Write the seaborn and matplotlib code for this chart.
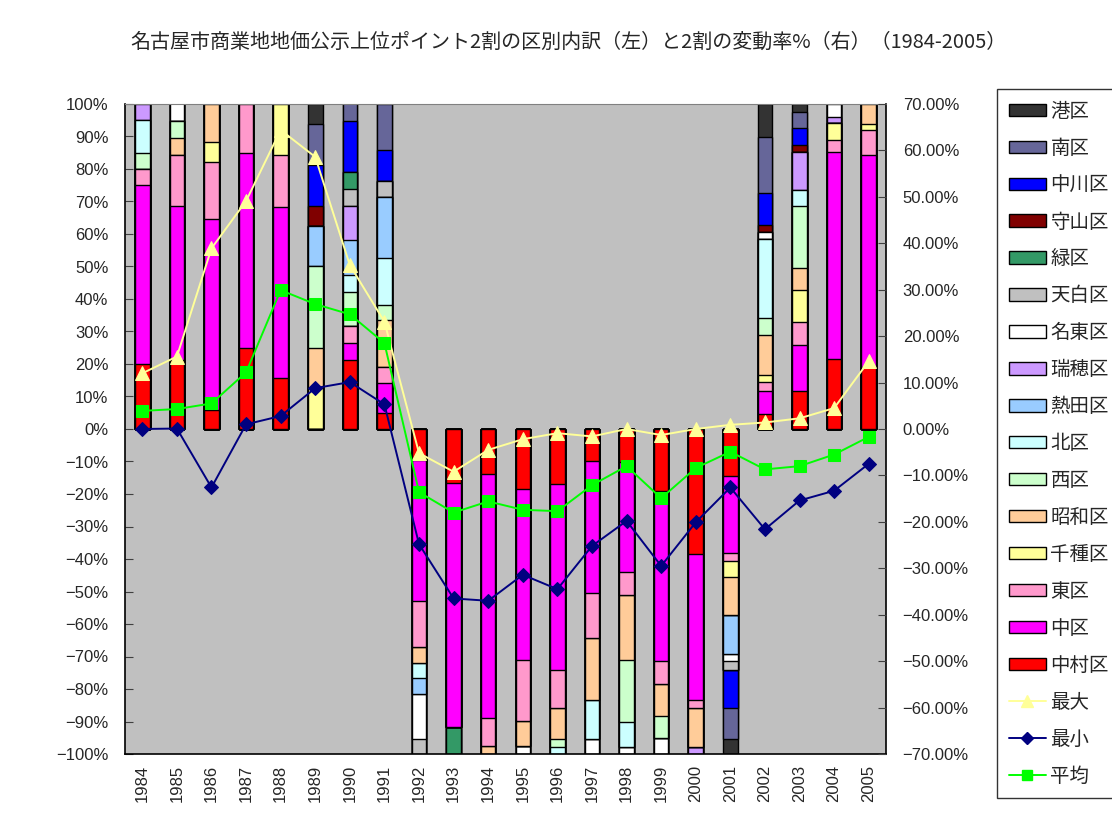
import numpy as np
import pandas as pd
import matplotlib
matplotlib.use("Agg")
import matplotlib.pyplot as plt
import seaborn as sns
from matplotlib.patches import Patch
from matplotlib.lines import Line2D
from matplotlib.ticker import FuncFormatter, FixedLocator

years = [str(y) for y in range(1984, 2006)]

# district shares (% of top-20% points); negative = years with falling prices
nakamura = [20.0, 21.1, 5.9, 25.0, 15.8, 0, 21.1, 4.8, -9.5, -16.5, -14.0, -18.6, -16.9, -9.7, -10.2, -19.1, -38.4, -14.6, 4.6, 11.8, 21.5, 19.2]
naka     = [55.0, 47.4, 58.8, 60.0, 52.6, 0, 5.3, 9.5, -43.3, -75.3, -75.0, -52.4, -57.4, -40.8, -33.9, -52.3, -45.1, -23.6, 7.2, 14.0, 63.8, 65.2]
higashi  = [5.0, 15.8, 17.6, 15.0, 15.8, 0, 5.3, 4.8, -14.3, 0, -8.4, -18.9, -11.6, -13.9, -7.1, -7.2, -2.3, -2.3, 2.8, 7.0, 3.6, 7.7]
chikusa  = [0, 0, 5.9, 0, 15.8, 12.5, 0, 0, 0, 0, 0, 0, 0, 0, 0, 0, 0, -4.9, 2.1, 10.0, 5.4, 1.7]
showa    = [0, 5.3, 11.8, 0, 0, 12.5, 0, 14.3, -4.8, 0, -2.6, -7.5, -9.4, -19.1, -19.8, -9.6, -11.9, -11.7, 12.2, 6.6, 0, 6.2]
nishi    = [5.0, 5.3, 0, 0, 0, 25.0, 10.5, 4.8, 0, 0, 0, 0, -2.4, 0, -19.3, -6.9, 0, 0, 5.1, 19.3, 0, 0]
kita     = [10.0, 0, 0, 0, 0, 0, 5.3, 14.3, -4.8, 0, 0, 0, -2.3, -11.8, -7.4, 0, 0, 0, 24.4, 4.8, 0, 0]
atsuta   = [0, 0, 0, 0, 0, 12.5, 10.5, 19.0, -4.8, 0, 0, 0, 0, 0, 0, 0, 0, -12.1, 0, 0, 0, 0]
mizuho   = [5.0, 0, 0, 0, 0, 0, 10.5, 0, 0, 0, 0, 0, 0, 0, 0, 0, -2.3, 0, 0, 11.8, 1.8, 0]
meito    = [0, 5.3, 0, 0, 0, 0, 0, 0, -13.8, 0, 0, -2.6, 0, -4.7, -2.3, -4.9, 0, -2.3, 2.2, 0, 3.9, 0]
tempaku  = [0, 0, 0, 0, 0, 0, 5.3, 4.8, -4.8, 0, 0, 0, 0, 0, 0, 0, 0, -2.7, 0, 0, 0, 0]
midori   = [0, 0, 0, 0, 0, 0, 5.3, 0, 0, -8.2, 0, 0, 0, 0, 0, 0, 0, 0, 0, 0, 0, 0]
moriyama = [0, 0, 0, 0, 0, 6.25, 0, 0, 0, 0, 0, 0, 0, 0, 0, 0, 0, 0, 2.2, 2.2, 0, 0]
nakagawa = [0, 0, 0, 0, 0, 12.5, 15.8, 9.5, 0, 0, 0, 0, 0, 0, 0, 0, 0, -11.8, 9.9, 5.1, 0, 0]
minami   = [0, 0, 0, 0, 0, 12.5, 5.3, 14.3, 0, 0, 0, 0, 0, 0, 0, 0, 0, -9.4, 17.1, 5.0, 0, 0]
minato   = [0, 0, 0, 0, 0, 6.25, 0, 0, 0, 0, 0, 0, 0, 0, 0, 0, 0, -4.7, 10.1, 2.4, 0, 0]

# change rates (right axis, %)
max_rate = [12.0, 15.6, 38.9, 49.1, 64.4, 58.6, 35.3, 23.1, -5.2, -9.2, -4.5, -2.2, -0.9, -1.6, 0.0, -1.3, 0.0, 0.9, 1.4, 2.3, 4.5, 14.6]
min_rate = [0.0, 0.1, -12.6, 1.0, 2.8, 8.8, 10.1, 5.3, -24.8, -36.5, -37.0, -31.4, -34.5, -25.2, -19.8, -29.5, -20.1, -12.6, -21.6, -15.4, -13.3, -7.5]
avg_rate = [3.9, 4.3, 5.5, 12.2, 29.9, 26.9, 24.7, 18.5, -13.6, -18.0, -15.6, -17.4, -17.7, -12.1, -8.0, -14.9, -8.4, -4.9, -8.7, -8.0, -5.5, -1.7]

# stacking order (bottom -> top)
stack = [
    ("中村区", nakamura, "#FF0000"),
    ("中区", naka, "#FF00FF"),
    ("東区", higashi, "#FF99CC"),
    ("千種区", chikusa, "#FFFF99"),
    ("昭和区", showa, "#FFCC99"),
    ("西区", nishi, "#CCFFCC"),
    ("北区", kita, "#CCFFFF"),
    ("熱田区", atsuta, "#99CCFF"),
    ("瑞穂区", mizuho, "#CC99FF"),
    ("名東区", meito, "#FFFFFF"),
    ("天白区", tempaku, "#C0C0C0"),
    ("緑区", midori, "#339966"),
    ("守山区", moriyama, "#800000"),
    ("中川区", nakagawa, "#0000FF"),
    ("南区", minami, "#666699"),
    ("港区", minato, "#333333"),
]

sns.set_style("white")
plt.rcParams['font.family'] = ['Noto Sans CJK JP', 'DejaVu Sans']

W, H = 1112, 830
fig = plt.figure(figsize=(W / 100, H / 100), dpi=100)
ax = fig.add_axes([125 / W, 1 - 754 / H, (886 - 125) / W, (754 - 104) / H])
ax.set_facecolor("#C0C0C0")

cum = np.zeros(len(years))
cums = []
for name, vals, color in stack:
    cum = cum + np.array(vals, dtype=float)
    cums.append((name, cum.copy(), color))

for name, c, color in reversed(cums):
    df = pd.DataFrame({"year": years, "value": c})
    sns.barplot(data=df, x="year", y="value", order=years, color=color, saturation=1,
                width=0.42, edgecolor="black", linewidth=1.0, errorbar=None, ax=ax, zorder=2)

ax.set_xlim(-0.5, len(years) - 0.5)
ax.set_ylim(-100, 100)
ax.yaxis.set_major_locator(FixedLocator(np.arange(-100, 101, 10)))
ax.yaxis.set_major_formatter(FuncFormatter(lambda v, p: f"{int(round(v))}%".replace("-", "\u2212")))
ax.set_xlabel("")
ax.set_ylabel("")
ax.set_xticks(range(len(years)))
ax.set_xticklabels(years, rotation=90, fontsize=12, family=['Liberation Sans', 'DejaVu Sans'])
ax.set_xticks(np.arange(-0.5, len(years), 1), minor=True)
ax.tick_params(axis="x", which="major", length=0, pad=8)
ax.tick_params(axis="x", which="minor", direction="in", length=6, color="#404040")
ax.tick_params(axis="y", direction="in", length=6, pad=12, labelsize=12, color="#404040")
for lbl in ax.get_yticklabels():
    lbl.set_family(['Liberation Sans', 'DejaVu Sans'])

for s in ["left", "bottom", "right"]:
    ax.spines[s].set_color("black")
    ax.spines[s].set_linewidth(1.2)
ax.spines["top"].set_color("#808080")

ax2 = ax.twinx()
pos = np.arange(len(years))
sns.lineplot(x=pos, y=max_rate, color="#FFFF99", marker="^", markersize=10, linewidth=1.4,
             markeredgecolor="#FFFF99", ax=ax2, legend=False, zorder=5)
sns.lineplot(x=pos, y=min_rate, color="#000080", marker="D", markersize=7, linewidth=1.4,
             markeredgecolor="#000080", ax=ax2, legend=False, zorder=5)
sns.lineplot(x=pos, y=avg_rate, color="#00FF00", marker="s", markersize=8, linewidth=1.4,
             markeredgecolor="#00FF00", ax=ax2, legend=False, zorder=5)
ax2.set_ylim(-70, 70)
ax2.set_xlim(-0.5, len(years) - 0.5)
ax2.yaxis.set_major_locator(FixedLocator(np.arange(-70, 71, 10)))
ax2.yaxis.set_major_formatter(FuncFormatter(lambda v, p: f"{v:.2f}%".replace("-", "\u2212")))
ax2.tick_params(axis="y", direction="in", length=6, pad=12, labelsize=12, color="#404040")
for lbl in ax2.get_yticklabels():
    lbl.set_family(['Liberation Sans', 'DejaVu Sans'])
ax2.set_ylabel("")
for s in ax2.spines.values():
    s.set_visible(False)

# legend
handles = []
for name, vals, color in reversed(stack):
    handles.append(Patch(facecolor=color, edgecolor="black", linewidth=1.0, label=name))
handles.append(Line2D([], [], color="#FFFF99", marker="^", markersize=8, lw=1.4, label="最大"))
handles.append(Line2D([], [], color="#000080", marker="D", markersize=6, lw=1.4, label="最小"))
handles.append(Line2D([], [], color="#00FF00", marker="s", markersize=7, lw=1.4, label="平均"))
leg = fig.legend(handles=handles, loc="upper left", bbox_to_anchor=(997 / W, 1 - 89 / H),
                 fontsize=14, frameon=True, fancybox=False, edgecolor="black",
                 handlelength=1.9, handleheight=0.6, handletextpad=0.25, labelspacing=0.82,
                 borderpad=0.6, borderaxespad=0)
leg.get_frame().set_linewidth(1.0)

fig.text(568 / W, 1 - 42 / H,
         "名古屋市商業地地価公示上位ポイント2割の区別内訳（左）と2割の変動率%（右）（1984-2005）",
         ha="center", va="center", fontsize=14.4)

fig.savefig("out.png", dpi=100)
